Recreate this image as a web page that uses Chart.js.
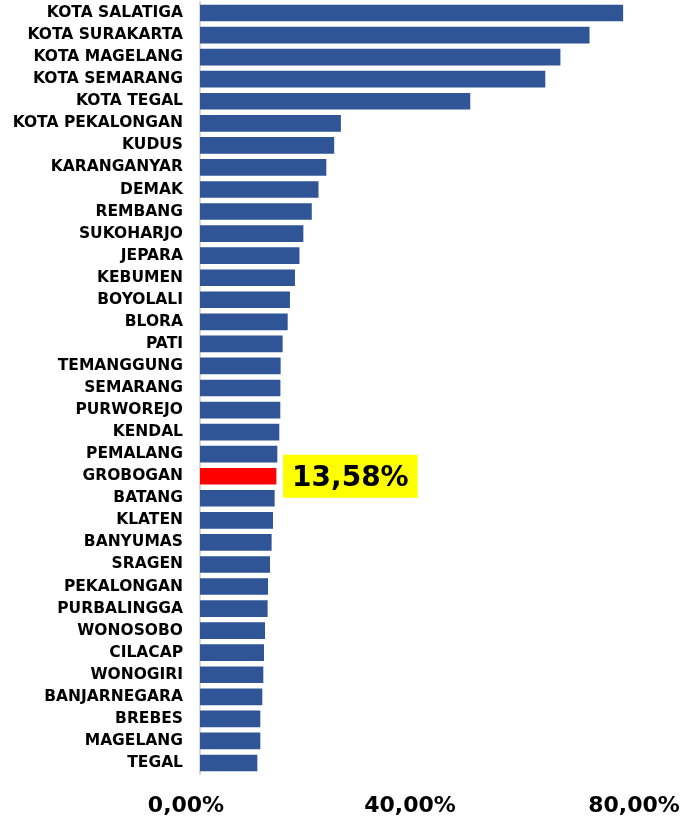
<!DOCTYPE html>
<html>
<head>
<meta charset="utf-8">
<script src="https://cdn.jsdelivr.net/npm/chart.js@4/dist/chart.umd.min.js"></script>
<style>
    html, body { margin: 0; padding: 0; background: #fff; }
    #wrap { width: 695px; height: 818px; position: relative; }
</style>
</head>
<body>
<div id="wrap"><canvas id="chart_canvas"></canvas></div>
<script>
const regions = ['KOTA SALATIGA', 'KOTA SURAKARTA', 'KOTA MAGELANG', 'KOTA SEMARANG', 'KOTA TEGAL',
    'KOTA PEKALONGAN', 'KUDUS', 'KARANGANYAR', 'DEMAK', 'REMBANG', 'SUKOHARJO', 'JEPARA',
    'KEBUMEN', 'BOYOLALI', 'BLORA', 'PATI', 'TEMANGGUNG', 'SEMARANG', 'PURWOREJO', 'KENDAL',
    'PEMALANG', 'GROBOGAN', 'BATANG', 'KLATEN', 'BANYUMAS', 'SRAGEN', 'PEKALONGAN',
    'PURBALINGGA', 'WONOSOBO', 'CILACAP', 'WONOGIRI', 'BANJARNEGARA', 'BREBES', 'MAGELANG', 'TEGAL'];
const percentages = [75.5, 69.5, 64.3, 61.6, 48.2,
    25.1, 23.9, 22.5, 21.1, 19.9, 18.4, 17.7,
    16.9, 16.0, 15.6, 14.7, 14.34, 14.3, 14.28, 14.1,
    13.75, 13.58, 13.27, 12.98, 12.73, 12.45, 12.09,
    12.02, 11.55, 11.37, 11.25, 11.07, 10.71, 10.71, 10.18];
const x_ticks = [0, 40, 80];
const highlight_region = 'GROBOGAN';

const BLUE = '#2F5597';
const RED = '#FF0000';

function fmt_pct(v) {
    return v.toFixed(2).replace('.', ',') + '%';
}

const bar_colors = regions.map(r => r === highlight_region ? RED : BLUE);

// yellow callout next to the highlighted bar
const highlight_label_plugin = {
    id: 'highlight_label',
    afterDatasetsDraw: (chart) => {
        const idx = regions.indexOf(highlight_region);
        const bar = chart.getDatasetMeta(0).data[idx];
        const ctx = chart.ctx;
        const text = fmt_pct(percentages[idx]);
        ctx.save();
        ctx.font = 'bold 28px "DejaVu Sans"';
        const w = ctx.measureText(text).width;
        const box_x = bar.x + 7;
        const box_h = 43;
        const box_y = bar.y - box_h / 2;
        ctx.fillStyle = '#FFFF00';
        ctx.fillRect(box_x, box_y, w + 18, box_h);
        ctx.fillStyle = '#000';
        ctx.textBaseline = 'middle';
        ctx.fillText(text, box_x + 9, bar.y + 2);
        ctx.restore();
    }
};

const ctx = document.getElementById('chart_canvas').getContext('2d');
new Chart(ctx, {
    type: 'bar',
    data: {
        labels: regions,
        datasets: [{
            data: percentages,
            backgroundColor: bar_colors,
            borderWidth: 0,
            barThickness: 16
        }]
    },
    options: {
        indexAxis: 'y',
        animation: false,
        responsive: true,
        maintainAspectRatio: false,
        layout: { padding: { top: 2, right: 47, bottom: 0, left: 0 } },
        plugins: {
            legend: { display: false },
            tooltip: { enabled: false }
        },
        scales: {
            x: {
                min: 0,
                max: 80,
                afterBuildTicks: (scale) => {
                    scale.ticks = x_ticks.map(v => ({ value: v }));
                },
                afterFit: (scale) => {
                    scale.height = 44;
                    scale.paddingLeft = 0;
                    scale.paddingRight = 0;
                },
                grid: { display: false, drawTicks: false },
                border: { display: false },
                ticks: {
                    padding: 19,
                    labelOffset: -14,
                    color: '#000',
                    maxRotation: 0,
                    font: { family: 'DejaVu Sans', weight: 'bold', size: 22 },
                    callback: (v) => fmt_pct(v)
                }
            },
            y: {
                afterFit: (scale) => {
                    scale.width = 200;
                    scale.paddingTop = 0;
                    scale.paddingBottom = 0;
                },
                grid: { display: false, drawTicks: false },
                border: { display: true, color: '#d9d9d9', width: 2 },
                ticks: {
                    padding: 17,
                    color: '#000',
                    autoSkip: false,
                    font: { family: 'DejaVu Sans', weight: 'bold', size: 15.5 }
                }
            }
        }
    },
    plugins: [highlight_label_plugin]
});
</script>
</body>
</html>
